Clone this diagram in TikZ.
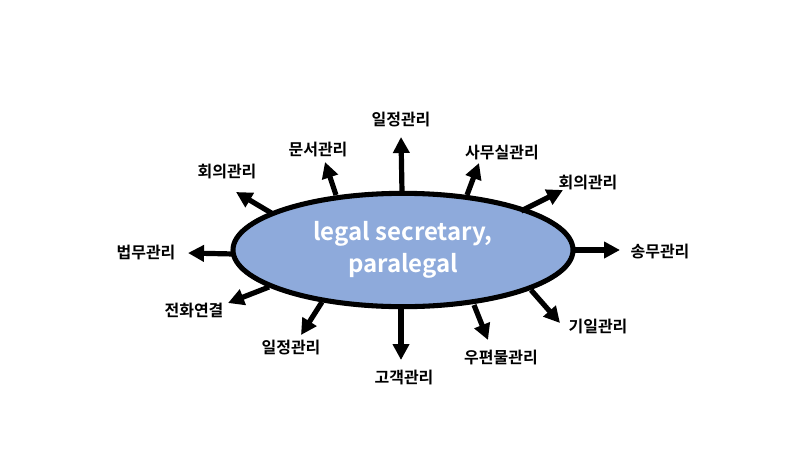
\documentclass[tikz,border=0pt]{standalone}
\usepackage{fontspec}
\setmainfont{Noto Sans CJK KR}[BoldFont={* Bold}]
\usetikzlibrary{arrows.meta,shapes.geometric}
\begin{document}
\begin{tikzpicture}[x=0.75pt,y=-0.75pt,
  arr/.style={line width=3.9pt,-{Triangle[length=12pt,width=12pt]}},
  lbl/.style={font=\bfseries\fontsize{12}{14}\selectfont}]
\useasboundingbox (0,0) rectangle (799,475);
\node[ellipse,draw=black,line width=3.8pt,fill={rgb,255:red,142;green,170;blue,219},minimum width=255pt,minimum height=85pt,inner sep=0pt,align=center,text=white,font=\bfseries\fontsize{18}{24}\selectfont] (e) at (403,250) {legal secretary,\\paralegal};
\coordinate (a1) at (402,192); \coordinate (b1) at (401,137);
\coordinate (a2) at (336,195); \coordinate (b2) at (325,162);
\coordinate (a3) at (467,195); \coordinate (b3) at (479,163);
\coordinate (a4) at (273,214); \coordinate (b4) at (236,192);
\coordinate (a5) at (521,211); \coordinate (b5) at (563,190);
\coordinate (a6) at (234,254); \coordinate (b6) at (188,253);
\coordinate (a7) at (572,250); \coordinate (b7) at (620,250);
\coordinate (a8) at (269,287); \coordinate (b8) at (228,303);
\coordinate (a9) at (322,302); \coordinate (b9) at (301,335);
\coordinate (a10) at (401,308); \coordinate (b10) at (401,360);
\coordinate (a11) at (474,305); \coordinate (b11) at (488,340);
\coordinate (a12) at (531,290); \coordinate (b12) at (560,323);
\foreach \i in {1,...,12} \draw[arr] (a\i) -- (b\i);
\node[lbl] (l1) at (401,120) {일정관리};
\node[lbl] (l2) at (318,150) {문서관리};
\node[lbl] (l3) at (502,153) {사무실관리};
\node[lbl] (l4) at (227,172) {회의관리};
\node[lbl] (l5) at (588,183) {회의관리};
\node[lbl] (l6) at (146,253) {법무관리};
\node[lbl] (l7) at (660,252) {송무관리};
\node[lbl] (l8) at (194,311) {전화연결};
\node[lbl] (l9) at (291,348) {일정관리};
\node[lbl] (l10) at (404,378) {고객관리};
\node[lbl] (l11) at (501,358) {우편물관리};
\node[lbl] (l12) at (598,327) {기일관리};
\end{tikzpicture}
\end{document}
